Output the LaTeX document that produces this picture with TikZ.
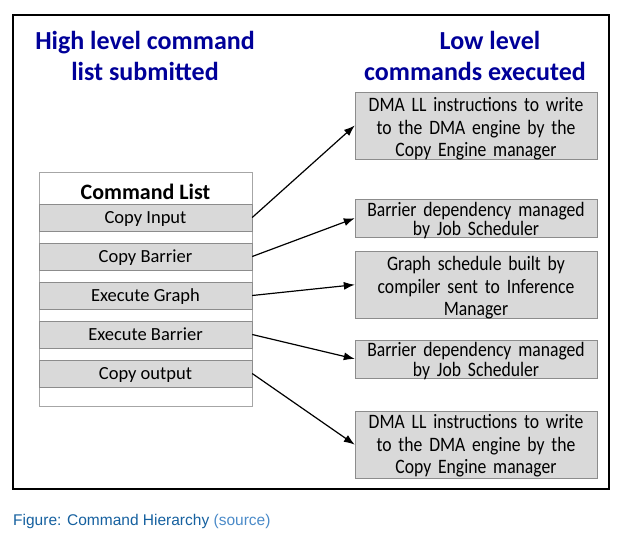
\documentclass[tikz,border=0pt]{standalone}
\usepackage{fontspec}
\setmainfont{Carlito}
\newfontfamily\boxfont{Carlito}[FakeStretch=0.86]
\newfontfamily\captionfont{Liberation Sans}
\usepackage{tikz}
\usetikzlibrary{arrows.meta, positioning}

\definecolor{titleblue}{HTML}{000099}
\definecolor{rowgray}{HTML}{D9D9D9}
\definecolor{edgegray}{HTML}{8C8C8C}
\definecolor{listgray}{HTML}{A6A6A6}
\definecolor{capblue}{HTML}{15609F}
\definecolor{linkblue}{HTML}{4A8AC8}

\begin{document}
\begin{tikzpicture}[x=1pt, y=-1pt,
    heading/.style={font=\fontsize{26}{31}\selectfont\bfseries, text=titleblue, align=center, inner sep=0},
    cmdrow/.style={draw=edgegray, fill=rowgray, minimum width=213pt, text height=19.5pt, text depth=7.5pt, inner sep=0, font=\fontsize{18.5}{22.5}\selectfont},
    lowbox/.style={draw=edgegray, fill=rowgray, text width=242pt, align=center, inner sep=0, font=\boxfont\fontsize{20.5}{22.5}\selectfont},
    twoline/.style={lowbox, font=\boxfont\fontsize{20.5}{19.5}\selectfont},
    link/.style={-{Latex[length=11pt, width=8pt]}, line width=1.2pt}]
    \useasboundingbox (0,0) rectangle (644,538);
    \draw[line width=1.2pt] (13,15) rectangle (609,489);

    % headings
    \node[heading] (hightitle) at (145,56) {High level command\\list submitted};
    \node[heading] (lowtitle) at (475,56) {\hspace*{30pt}Low level\\commands executed};

    % command list on the left
    \node[draw=listgray, line width=0.8pt, minimum width=213pt, minimum height=234pt, inner sep=0] (cmdlist) at (145.5,289) {};
    \node[anchor=base, font=\fontsize{22}{26}\selectfont\bfseries, inner sep=0] (listtitle) at (145.5,199) {Command List};
    \foreach \txt [count=\i] in {Copy Input, Copy Barrier, Execute Graph, Execute Barrier, Copy output}
        \node[cmdrow] (row\i) at (145.5, 217.5+39*\i-39) {\txt};

    % low level commands on the right
    \node[lowbox, text height=20pt, text depth=47.6pt] (low1) at (476,125.5) {DMA LL instructions to write\\to the DMA engine by the\\Copy Engine manager};
    \node[twoline, text height=17pt, text depth=21.3pt] (low2) at (476,218.2) {Barrier dependency managed\\by Job Scheduler};
    \node[lowbox, text height=19.7pt, text depth=47.6pt] (low3) at (476,284.7) {Graph schedule built by\\compiler sent to Inference\\Manager};
    \node[twoline, text height=16.7pt, text depth=21pt] (low4) at (476,358.9) {Barrier dependency managed\\by Job Scheduler};
    \node[lowbox, text height=17.5pt, text depth=49.8pt] (low5) at (476,444.7) {DMA LL instructions to write\\to the DMA engine by the\\Copy Engine manager};

    \foreach \i in {1,...,5}
        \draw[link] (row\i.east) -- (low\i.west);

    \node[anchor=west, inner sep=0, font=\captionfont\fontsize{15.5}{18}\selectfont, text=capblue] (caption) at (13,521) {Figure: Command Hierarchy \textcolor{linkblue}{(source)}};
\end{tikzpicture}
\end{document}
